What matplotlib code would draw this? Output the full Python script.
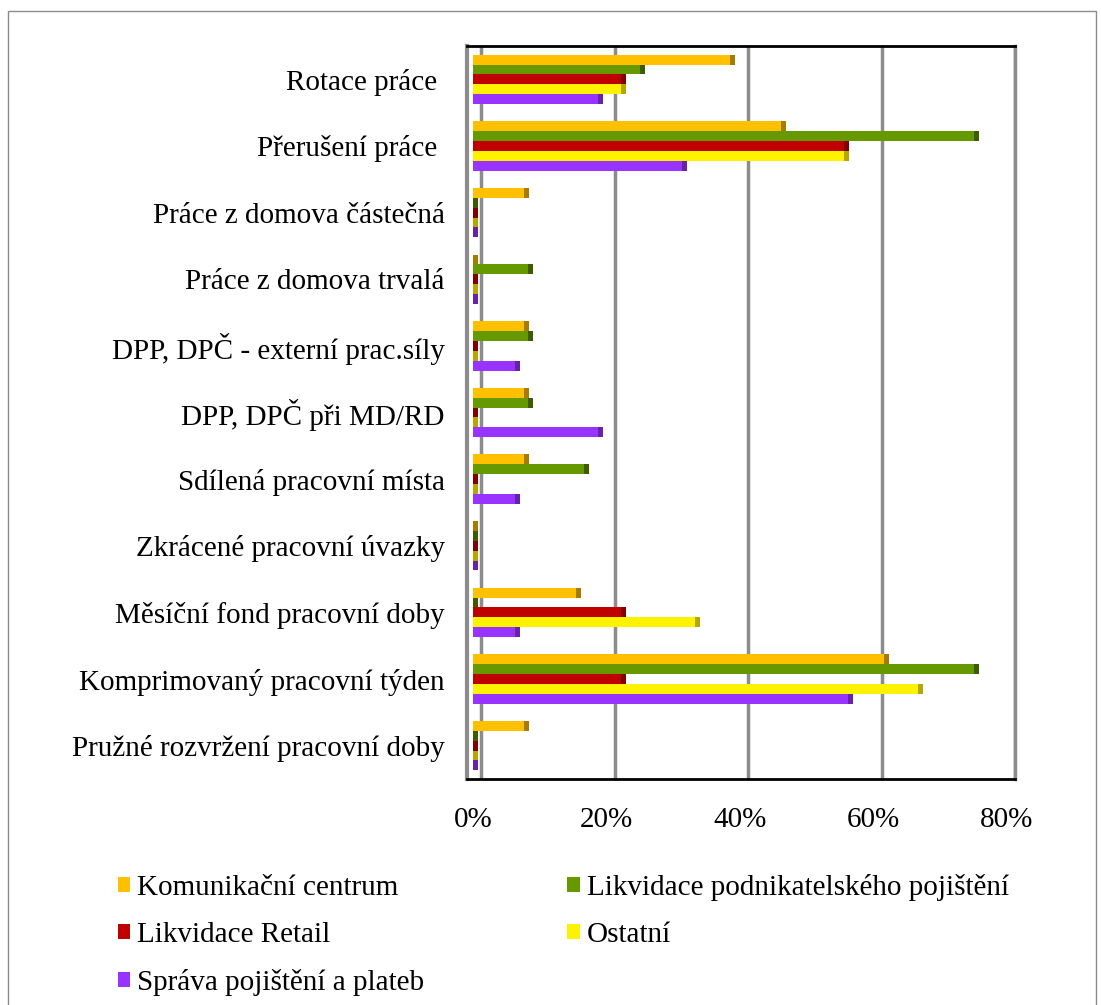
import numpy as np
import matplotlib.pyplot as plt
from matplotlib.patches import Rectangle, Patch

plt.rcParams['font.family'] = ['Liberation Serif', 'DejaVu Serif']

categories = [
    "Rotace práce ",
    "Přerušení práce ",
    "Práce z domova částečná",
    "Práce z domova trvalá",
    "DPP, DPČ - externí prac.síly",
    "DPP, DPČ při MD/RD",
    "Sdílená pracovní místa",
    "Zkrácené pracovní úvazky",
    "Měsíční fond pracovní doby",
    "Komprimovaný pracovní týden",
    "Pružné rozvržení pracovní doby",
]

series_names = [
    "Komunikační centrum",
    "Likvidace podnikatelského pojištění",
    "Likvidace Retail",
    "Ostatní",
    "Správa pojištění a plateb",
]

# values in percent, top-to-bottom category order
komunikacni = [38.5, 46.2, 7.7, 0, 7.7, 7.7, 7.7, 0, 15.4, 61.5, 7.7]
likv_podnik = [25.0, 75.0, 0, 8.3, 8.3, 8.3, 16.7, 0, 0, 75.0, 0]
likv_retail = [22.2, 55.6, 0, 0, 0, 0, 0, 0, 22.2, 22.2, 0]
ostatni = [22.2, 55.6, 0, 0, 0, 0, 0, 0, 33.3, 66.7, 0]
sprava = [18.75, 31.25, 0, 0, 6.25, 18.75, 6.25, 0, 6.25, 56.25, 0]

series = [komunikacni, likv_podnik, likv_retail, ostatni, sprava]
face_colors = ['#FFC000', '#669900', '#C00000', '#FFF200', '#9933FF']
cap_colors = ['#A67C00', '#3D5C00', '#800000', '#B3A700', '#6622AA']

xticks = [0, 20, 40, 60, 80]
xtick_labels = ['0%', '20%', '40%', '60%', '80%']

depth = 1.2   # shift of back wall
cap_w = 0.75  # width of the dark side face
bar_h = 0.148

fig = plt.figure(figsize=(11.01, 10.05), dpi=100)
ax = fig.add_axes([467 / 1101, 226 / 1005, 548 / 1101, 733 / 1005])

y = np.arange(len(categories))
for k, vals in enumerate(series):
    pos = y + (k - 2) * bar_h
    vals = np.array(vals, dtype=float)
    ax.barh(pos, vals, height=bar_h, color=face_colors[k], edgecolor='none', zorder=3)
    ax.barh(pos, np.full_like(vals, cap_w), left=vals, height=bar_h,
            color=cap_colors[k], edgecolor='none', zorder=3)

for t in xticks:
    ax.axvline(t + depth, color='#8c8c8c', lw=2.5, zorder=1)

ax.set_xlim(-0.9, 80 + depth)
ax.set_ylim(len(categories) - 0.5, -0.5)
ax.set_yticks(y)
ax.set_yticklabels(categories, fontsize=21)
ax.set_xticks(xticks)
ax.set_xticklabels(xtick_labels, fontsize=21)
ax.tick_params(length=0)
ax.tick_params(axis='y', pad=16)
ax.tick_params(axis='x', pad=20)

ax.spines['left'].set_color('#8c8c8c')
ax.spines['left'].set_linewidth(3)
ax.spines['right'].set_color('#8c8c8c')
ax.spines['right'].set_linewidth(2.5)
ax.spines['top'].set_color('black')
ax.spines['top'].set_linewidth(2)
ax.spines['bottom'].set_color('black')
ax.spines['bottom'].set_linewidth(2)

order = [0, 2, 4, 1, 3]
handles = [Patch(facecolor=face_colors[i], edgecolor='none') for i in order]
labels = [series_names[i] for i in order]
fig.legend(handles, labels, loc='upper left', bbox_to_anchor=(106 / 1101, 1 - 862 / 1005),
           ncol=2, frameon=False, fontsize=21, handlelength=0.42, handleheight=0.42,
           handletextpad=0.25, columnspacing=4.9, labelspacing=0.73, borderaxespad=0)

fig.patches.append(Rectangle((8 / 1101, -0.01), 1088 / 1101, 0.999, transform=fig.transFigure,
                             fill=False, edgecolor='#8c8c8c', lw=1))

fig.savefig('out.png', dpi=100)
